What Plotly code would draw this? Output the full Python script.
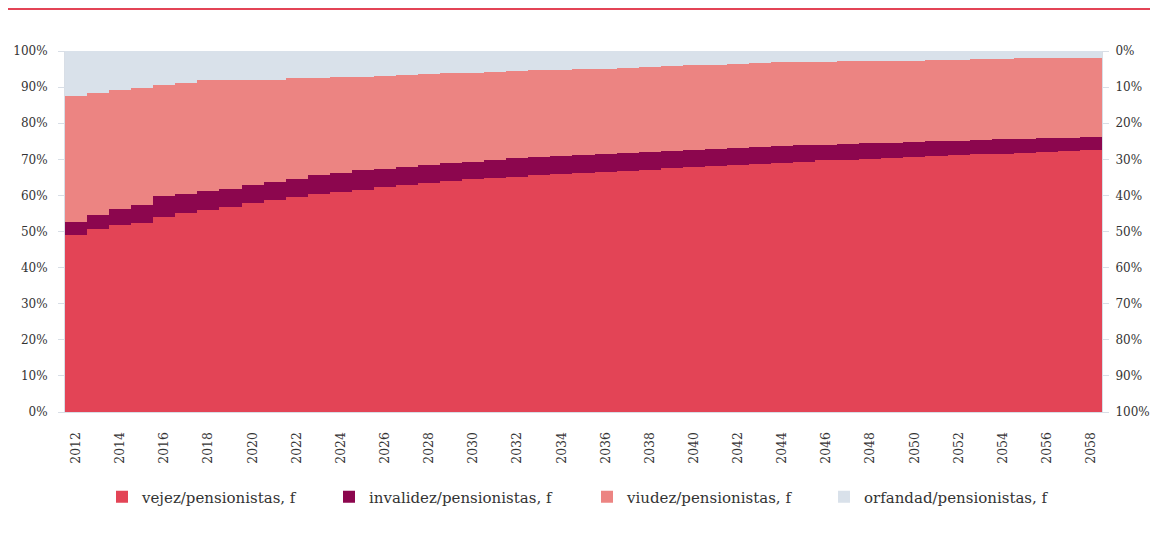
import plotly.graph_objects as go

years = list(range(2012, 2059))

vejez = [49.0, 50.6, 51.9, 52.4, 54.1, 55.0, 56.0, 56.9, 57.8, 58.7,
         59.6, 60.4, 61.0, 61.6, 62.3, 62.9, 63.4, 63.9, 64.5, 64.7,
         65.2, 65.7, 66.0, 66.3, 66.4, 66.7, 67.1, 67.5, 67.8, 68.1,
         68.4, 68.7, 69.1, 69.3, 69.7, 69.9, 70.2, 70.4, 70.6, 70.9,
         71.2, 71.4, 71.6, 71.7, 72.0, 72.2, 72.5]
invalidez = [3.7, 4.0, 4.2, 4.9, 5.7, 5.5, 5.2, 5.0, 5.2, 5.0,
             5.0, 5.3, 5.3, 5.3, 5.1, 5.1, 5.1, 5.1, 4.8, 5.1,
             5.1, 4.9, 5.0, 5.0, 5.0, 5.0, 4.9, 4.9, 4.9, 4.8,
             4.8, 4.7, 4.6, 4.6, 4.4, 4.3, 4.2, 4.2, 4.2, 4.1,
             4.0, 3.9, 3.9, 4.0, 3.8, 3.8, 3.7]
viudez = [34.8, 33.8, 33.1, 32.5, 30.8, 30.6, 30.7, 30.0, 28.9, 28.4,
          27.8, 26.8, 26.4, 26.0, 25.7, 25.3, 25.1, 24.8, 24.6, 24.3,
          24.1, 24.0, 23.7, 23.7, 23.7, 23.6, 23.6, 23.4, 23.3, 23.3,
          23.2, 23.2, 23.2, 23.0, 22.9, 22.9, 22.7, 22.7, 22.5, 22.5,
          22.3, 22.4, 22.2, 22.3, 22.2, 22.1, 21.9]
orfandad = [12.5, 11.6, 10.8, 10.2, 9.4, 8.9, 8.1, 8.1, 8.1, 7.9,
            7.6, 7.5, 7.3, 7.1, 6.9, 6.7, 6.4, 6.2, 6.1, 5.9,
            5.6, 5.4, 5.3, 5.0, 4.9, 4.7, 4.4, 4.2, 4.0, 3.8,
            3.6, 3.4, 3.1, 3.1, 3.0, 2.9, 2.9, 2.7, 2.7, 2.5,
            2.5, 2.3, 2.3, 2.0, 2.0, 1.9, 1.9]

series_names = ["vejez/pensionistas, f", "invalidez/pensionistas, f",
                "viudez/pensionistas, f", "orfandad/pensionistas, f"]
series_values = [vejez, invalidez, viudez, orfandad]
series_colors = ["#e34456", "#8c064e", "#ec8482", "#d9e1ea"]
legend_ids = ["legend", "legend2", "legend3", "legend4"]

left_ticks = list(range(0, 101, 10))
left_labels = [f"{v}%" for v in left_ticks]
right_labels = [f"{100 - v}%" for v in left_ticks]
x_ticks = list(range(2012, 2059, 2))

# page offset (default body margin) and figure geometry
OFF = 8
W, H = 1150, 532
L, R, T, B = 57, 56, 43, 128
pw, ph = W - L - R, H - T - B


def px_x(screen_px):
    return (screen_px - OFF - L) / pw


def px_y(screen_py):
    return (H - B - (screen_py - OFF)) / ph


fig = go.Figure()
for name, vals, col, lg in zip(series_names, series_values, series_colors, legend_ids):
    fig.add_trace(go.Bar(x=years, y=vals, name=name, legend=lg,
                         marker=dict(color=col, line=dict(width=0)),
                         hoverinfo="x+y+name"))

# invisible helper trace so the right-hand axis is drawn
fig.add_trace(go.Scatter(x=years, y=vejez, yaxis="y2", mode="lines",
                         line=dict(width=0, color="rgba(0,0,0,0)"),
                         showlegend=False, hoverinfo="skip"))

axis_grey = "#d8dee6"
legend_pos = [94, 321, 579, 816]
leg_common = dict(orientation="h", yanchor="middle", xanchor="left",
                  bgcolor="rgba(0,0,0,0)",
                  font=dict(size=15, color="#333333", family="DejaVu Serif"))

layout_legends = {}
for lg, pxpos in zip(legend_ids, legend_pos):
    layout_legends[lg] = dict(x=(pxpos - L) / pw, y=px_y(497), **leg_common)

fig.update_layout(
    width=W, height=H,
    margin=dict(l=L, r=R, t=T, b=B, autoexpand=False),
    barmode="stack", bargap=0,
    paper_bgcolor="#eef2f5", plot_bgcolor="#ffffff",
    font=dict(family="DejaVu Serif", size=12, color="#333333"),
    showlegend=True,
    xaxis=dict(range=[2011.5, 2058.5], tickmode="array", tickvals=x_ticks,
               ticktext=[str(v) for v in x_ticks], tickangle=-90,
               showgrid=False, zeroline=False, showline=True,
               linecolor=axis_grey, linewidth=1, ticks="",
               tickfont=dict(size=12.5), ticklabelstandoff=14,
               automargin=False),
    yaxis=dict(range=[0, 100], tickmode="array", tickvals=left_ticks,
               ticktext=left_labels, showgrid=False, zeroline=False,
               showline=True, linecolor=axis_grey, linewidth=1,
               ticks="outside", ticklen=6, tickcolor=axis_grey,
               ticklabelstandoff=8, automargin=False),
    yaxis2=dict(range=[0, 100], overlaying="y", side="right",
                tickmode="array", tickvals=left_ticks, ticktext=right_labels,
                showgrid=False, zeroline=False, showline=True,
                linecolor=axis_grey, linewidth=1, ticks="outside",
                ticklen=6, tickcolor=axis_grey, ticklabelstandoff=4,
                automargin=False),
    **layout_legends,
)

# card background and top accent line
fig.add_shape(type="rect", xref="paper", yref="paper", layer="below",
              x0=px_x(0), x1=px_x(1150), y0=px_y(560), y1=px_y(10),
              fillcolor="#ffffff", line=dict(width=0))
fig.add_shape(type="rect", xref="paper", yref="paper", layer="below",
              x0=px_x(0), x1=px_x(1170), y0=px_y(10), y1=px_y(OFF - 2),
              fillcolor="#e34456", line=dict(width=0))

fig.write_html("out.html")
